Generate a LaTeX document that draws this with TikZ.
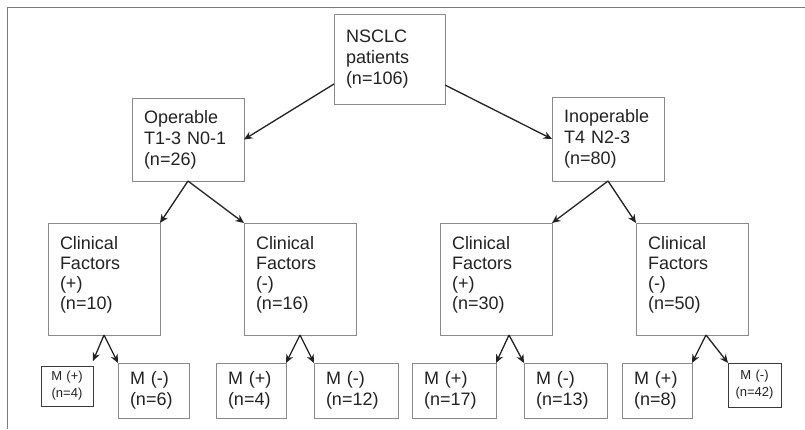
\documentclass[tikz,border=0pt]{standalone}
\usepackage{fontspec}
\setmainfont{Liberation Sans}
\usetikzlibrary{arrows.meta,calc}
\definecolor{boxgray}{HTML}{8A8A8A}
\definecolor{darkbox}{HTML}{3A3A3A}
\definecolor{framec}{HTML}{7A7A7A}
\definecolor{textc}{HTML}{222222}
\definecolor{arrowc}{HTML}{222222}
\begin{document}
\begin{tikzpicture}[x=1pt,y=-1pt,
  box/.style={draw=boxgray, line width=0.9pt, outer sep=0pt, inner xsep=12pt, inner ysep=0pt,
    align=left, text=textc, font=\fontsize{18}{21}\selectfont},
  cfbox/.style={box, text width=88pt, minimum height=112pt, text depth=73pt,
    font=\fontsize{18}{20}\selectfont},
  sbox/.style={draw=darkbox, line width=0.9pt, outer sep=0pt, inner xsep=0pt, inner ysep=0pt,
    align=center, text=textc, font=\fontsize{13}{17}\selectfont},
  arr/.style={draw=arrowc, line width=1.3pt, -{Stealth[length=8.5pt,width=7.5pt]}}]
\useasboundingbox (0,0) rectangle (805,429);
% open frame
\draw[framec, line width=1.5pt] (7.5,429) -- (7.5,7.5) -- (805,7.5);
% level 0
\node[box, text width=87pt, minimum height=90pt] (root) at (389.5,59) {NSCLC\\patients\\(n=106)};
% level 1
\node[box, text width=88pt, minimum height=83pt] (op) at (188,139.5) {Operable\\T1-3 N0-1\\(n=26)};
\node[box, text width=88pt, minimum height=84pt] (inop) at (608,139) {Inoperable\\T4 N2-3\\(n=80)};
% level 2
\node[cfbox] (cf1) at (104,279) {Clinical\\Factors\\(+)\\(n=10)};
\node[cfbox] (cf2) at (300,279) {Clinical\\Factors\\(-)\\(n=16)};
\node[cfbox] (cf3) at (496,279) {Clinical\\Factors\\(+)\\(n=30)};
\node[cfbox] (cf4) at (692,279) {Clinical\\Factors\\(-)\\(n=50)};
% level 3
\node[sbox, text width=52pt, minimum height=40pt] (m1) at (67,386) {M (+)\\(n=4)};
\node[box, text width=47pt, minimum height=55pt] (m2) at (153.5,390.5) {M (-)\\(n=6)};
\node[box, text width=46pt, minimum height=55pt] (m3) at (251,390.5) {M (+)\\(n=4)};
\node[box, text width=60pt, minimum height=55pt] (m4) at (356,390.5) {M (-)\\(n=12)};
\node[box, text width=60pt, minimum height=55pt] (m5) at (454,390.5) {M (+)\\(n=17)};
\node[box, text width=59pt, minimum height=55pt] (m6) at (565.5,390.5) {M (-)\\(n=13)};
\node[box, text width=46pt, minimum height=55pt] (m7) at (657,390.5) {M (+)\\(n=8)};
\node[sbox, text width=53pt, minimum height=44pt] (m8) at (754.5,385) {M (-)\\(n=42)};
% connectors
\draw[arr] ($(root.south west)+(0,-20)$) -- (op.east);
\draw[arr] ($(root.south east)+(0,-19)$) -- (inop.west);
\draw[arr] (op.south) -- (cf1.north east);
\draw[arr] (op.south) -- (cf2.north west);
\draw[arr] (inop.south) -- (cf3.north east);
\draw[arr] (inop.south) -- (cf4.north west);
\draw[arr] (cf1.south) -- ($(m1.north east)+(0,-5)$);
\draw[arr] (cf1.south) -- (m2.north west);
\draw[arr] (cf2.south) -- (m3.north east);
\draw[arr] (cf2.south) -- (m4.north west);
\draw[arr] ($(cf3.south)+(13,0)$) -- (m5.north east);
\draw[arr] ($(cf3.south)+(13,0)$) -- (m6.north west);
\draw[arr] ($(cf4.south)+(14,0)$) -- (m7.north east);
\draw[arr] ($(cf4.south)+(14,0)$) -- (m8.north west);
\end{tikzpicture}
\end{document}
